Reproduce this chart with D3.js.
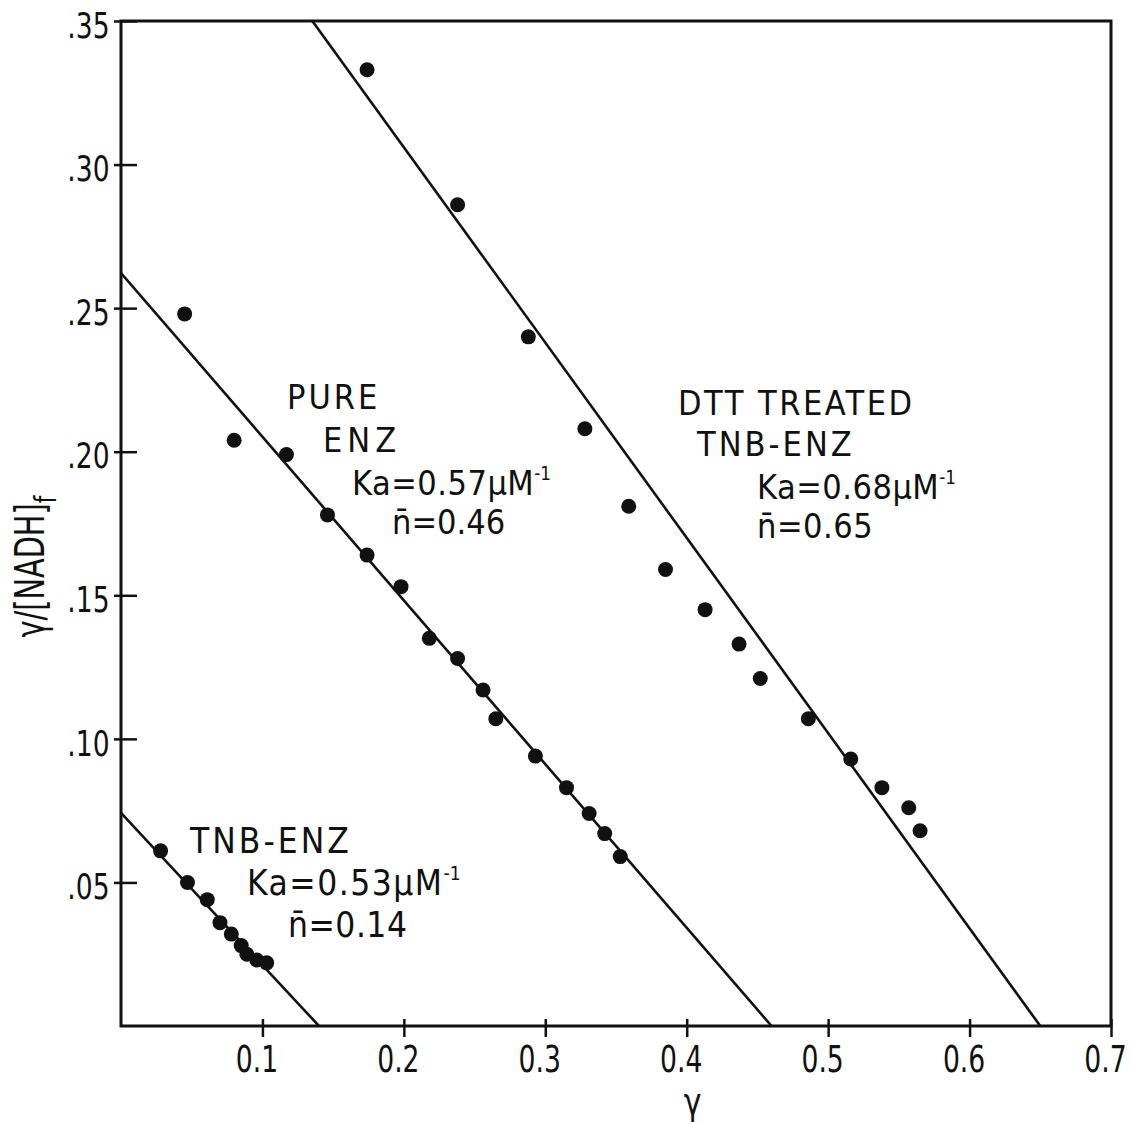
<!DOCTYPE html>
<html>
<head>
<meta charset="utf-8">
<script src="https://cdn.jsdelivr.net/npm/d3@7"></script>
<style>
  html, body { margin: 0; padding: 0; background: #fff; }
  svg { display: block; }
  text { fill: #111; }
</style>
</head>
<body>
<svg id="chart" width="1132" height="1122"></svg>
<script>
// Scatchard plot: ν/[NADH]f against ν for three enzyme preparations

const xTicks = [0.1, 0.2, 0.3, 0.4, 0.5, 0.6, 0.7];
const xTickLabels = ["0.1", "0.2", "0.3", "0.4", "0.5", "0.6", "0.7"];
const yTicks = [0.05, 0.10, 0.15, 0.20, 0.25, 0.30, 0.35];
const yTickLabels = [".05", ".10", ".15", ".20", ".25", ".30", ".35"];

// Pure enzyme
const pureX = [0.045, 0.080, 0.117, 0.146, 0.174, 0.198, 0.218, 0.238, 0.256, 0.265, 0.293, 0.315, 0.331, 0.342, 0.353];
const pureY = [0.248, 0.204, 0.199, 0.178, 0.164, 0.153, 0.135, 0.128, 0.117, 0.107, 0.094, 0.083, 0.074, 0.067, 0.059];

// DTT treated TNB-enzyme
const dttX = [0.174, 0.238, 0.288, 0.328, 0.359, 0.385, 0.413, 0.437, 0.452, 0.486, 0.516, 0.538, 0.557, 0.565];
const dttY = [0.333, 0.286, 0.240, 0.208, 0.181, 0.159, 0.145, 0.133, 0.121, 0.107, 0.093, 0.083, 0.076, 0.068];

// TNB-enzyme
const tnbX = [0.028, 0.047, 0.061, 0.070, 0.078, 0.085, 0.089, 0.096, 0.103];
const tnbY = [0.061, 0.050, 0.044, 0.036, 0.032, 0.028, 0.025, 0.023, 0.022];

// Fitted lines: y = Ka * (n - x)
const fitNames = ["pure", "dtt", "tnb"];
const fitKa = [0.57, 0.68, 0.53];
const fitN = [0.46, 0.65, 0.14];

const svg = d3.select("#chart");
const plotLeft = 121, plotRight = 1111, plotTop = 21, plotBottom = 1026;

const x = d3.scaleLinear().domain([0, 0.7]).range([plotLeft, plotRight]);
const y = d3.scaleLinear().domain([0, 0.35]).range([plotBottom, plotTop]);

const font = "'DejaVu Sans Condensed', 'DejaVu Sans', sans-serif";

// clip region bounded by the frame
svg.append("defs").append("clipPath").attr("id", "plot")
  .append("rect").attr("x", plotLeft).attr("y", plotTop)
  .attr("width", plotRight - plotLeft).attr("height", plotBottom - plotTop);

// frame
svg.append("rect")
  .attr("x", plotLeft).attr("y", plotTop)
  .attr("width", plotRight - plotLeft).attr("height", plotBottom - plotTop)
  .attr("fill", "none").attr("stroke", "#111").attr("stroke-width", 3);

// x axis
const xAxis = svg.append("g")
  .attr("transform", `translate(0,${plotBottom})`)
  .call(d3.axisBottom(x).tickValues(xTicks)
    .tickFormat((d, i) => xTickLabels[i]).tickSizeOuter(0).tickSize(10).tickPadding(10));
xAxis.select(".domain").remove();
xAxis.selectAll(".tick line").attr("y1", -7).attr("y2", 11)
  .attr("stroke", "#111").attr("stroke-width", 2.5);
xAxis.selectAll(".tick text")
  .attr("font-family", font).attr("font-size", 37).attr("fill", "#111")
  .attr("transform", "translate(-6,0) scale(0.8,1)");

// y axis
const yAxis = svg.append("g")
  .attr("transform", `translate(${plotLeft},0)`)
  .call(d3.axisLeft(y).tickValues(yTicks)
    .tickFormat((d, i) => yTickLabels[i]).tickSize(6).tickPadding(8));
yAxis.select(".domain").remove();
yAxis.selectAll(".tick line").attr("x1", -7).attr("x2", 16)
  .attr("stroke", "#111").attr("stroke-width", 2.5);
yAxis.selectAll(".tick text")
  .attr("font-family", font).attr("font-size", 36).attr("dy", "0.45em").attr("fill", "#111")
  .attr("transform", "scale(0.82,1)");

// axis titles
svg.append("text")
  .attr("transform", `translate(${x(0.4) + 6},1115) scale(0.9,1)`)
  .attr("text-anchor", "middle")
  .attr("font-family", font).attr("font-size", 37)
  .text("γ");

const yTitle = svg.append("text")
  .attr("transform", `translate(44,${y(0.16)}) rotate(-90) scale(0.8,1)`)
  .attr("text-anchor", "middle")
  .attr("font-family", font).attr("font-size", 40);
yTitle.append("tspan").text("γ/[NADH]");
yTitle.append("tspan").attr("font-size", 30).attr("dy", 12).text("f");

// fitted lines from the top edge (or the y axis) down to the x intercept n
const lines = svg.append("g").attr("clip-path", "url(#plot)");
fitNames.forEach((name, i) => {
  const ka = fitKa[i], n = fitN[i];
  const x0 = Math.max(0, n - 0.36 / ka);
  lines.append("line")
    .attr("class", "fit-" + name)
    .attr("x1", x(x0)).attr("y1", y(ka * (n - x0)))
    .attr("x2", x(n)).attr("y2", y(0))
    .attr("stroke", "#111").attr("stroke-width", 2.6);
});

// data points
function drawPoints(xs, ys, cls) {
  svg.append("g").attr("class", cls)
    .selectAll("circle")
    .data(xs.map((v, i) => [v, ys[i]]))
    .join("circle")
    .attr("cx", d => x(d[0])).attr("cy", d => y(d[1]))
    .attr("r", 7.5).attr("fill", "#111");
}
drawPoints(pureX, pureY, "pure");
drawPoints(dttX, dttY, "dtt");
drawPoints(tnbX, tnbY, "tnb");

// annotations
function label(rows, px, py, size) {
  const t = svg.append("text")
    .attr("font-family", font).attr("font-size", size);
  rows.forEach(l => {
    const ts = t.append("tspan").attr("x", px + l.dx).attr("y", py + l.dy)
      .attr("letter-spacing", l.ls);
    ts.append("tspan").text(l.text);
    if (l.sup) ts.append("tspan").attr("font-size", size * 0.55).attr("dy", -15)
      .attr("letter-spacing", 0).text(l.sup);
  });
}

label([
  { text: "PURE", dx: 0, dy: 0, ls: 3 },
  { text: "ENZ", dx: 36, dy: 43, ls: 5 },
  { text: "Ka=0.57µM", sup: "-1", dx: 65, dy: 86, ls: 0.5 },
  { text: "n̄=0.46", dx: 105, dy: 125, ls: 0 }
], 287, 409, 34);

label([
  { text: "DTT TREATED", dx: 0, dy: 0, ls: 2.5 },
  { text: "TNB-ENZ", dx: 19, dy: 41, ls: 3 },
  { text: "Ka=0.68µM", sup: "-1", dx: 79, dy: 84, ls: 0.5 },
  { text: "n̄=0.65", dx: 79, dy: 123, ls: 0.5 }
], 678, 415, 34);

label([
  { text: "TNB-ENZ", dx: 0, dy: 0, ls: 3 },
  { text: "Ka=0.53µM", sup: "-1", dx: 57, dy: 42, ls: 1.5 },
  { text: "n̄=0.14", dx: 98, dy: 84, ls: 0.5 }
], 190, 853, 35);
</script>
</body>
</html>
